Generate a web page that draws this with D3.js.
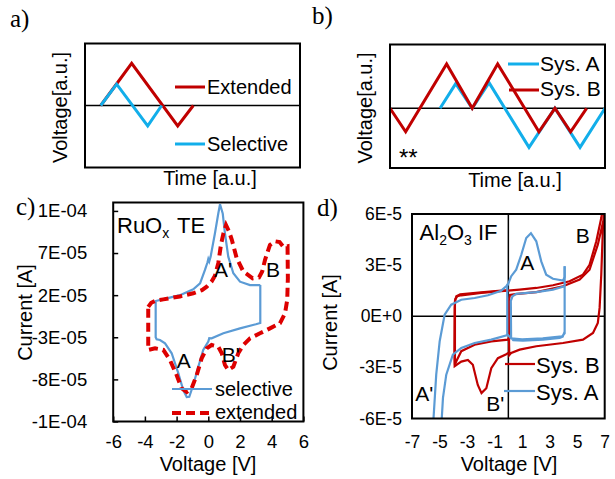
<!DOCTYPE html>
<html>
<head>
<meta charset="utf-8">
<script src="https://cdnjs.cloudflare.com/ajax/libs/d3/7.8.5/d3.min.js"></script>
<style>
  body { margin: 0; background: #fff; }
  svg text { fill: #000; }
</style>
</head>
<body>
<svg id="fig" width="615" height="479"></svg>
<script>
// ---- panel a: applied waveforms (time, voltage in a.u.) ----
const aSelT = [1.05, 2.11, 4.18, 5.11];
const aSelV = [0, 1.03, -0.99, 0];
const aExtT = [1.05, 3.11, 6.18, 7.22];
const aExtV = [0, 2.04, -0.99, 0];

// ---- panel b ----
const bSysAT = [3.13, 4.11, 5.14, 6.19, 8.69, 10.31, 11.88, 13.44];
const bSysAV = [0, 1.03, 0, 1.07, -1.63, 0, -1.63, 0];
const bSysBT = [0, 0.98, 3.54, 5.14, 6.73, 9.31, 10.31, 11.29, 12.29];
const bSysBV = [0, -0.98, 1.85, 0, 1.85, -0.98, 0, -0.98, 0];

// ---- panel c: RuOx TE, [voltage V, current 1e-5 A] ----
const cSelective = [
  [3.28, 3.2], [3.28, -1.3], [3.0, -1.45], [2.0, -1.94], [0.95, -2.53], [0.21, -3.12],
  [0.06, -3.1], [0.0, -3.5], [-0.32, -4.5], [-0.63, -6.5], [-0.95, -8.67], [-1.2, -10.06],
  [-1.36, -10.1], [-1.58, -9.26], [-1.89, -7.28], [-2.31, -4.9], [-2.73, -3.72],
  [-3.05, -3.33], [-3.26, -3.24], [-3.32, -3.0], [-3.32, 1.3], [-2.62, 1.62],
  [-1.79, 2.0], [-0.95, 2.7], [-0.52, 3.4], [-0.21, 5.0], [-0.05, 5.9], [0.0, 6.3],
  [0.06, 6.0], [0.15, 6.6], [0.42, 9.35], [0.63, 11.7], [0.74, 12.8], [0.91, 11.7],
  [1.05, 9.35], [1.26, 6.57], [1.58, 4.6], [2.0, 3.6], [2.63, 3.2], [3.28, 3.2]
];
const cExtended = [
  [-3.79, 0.6], [-3.6, 1.1], [-3.3, 1.35], [-2.84, 1.5], [-1.79, 1.85], [-0.95, 2.22],
  [-0.4, 2.6], [-0.1, 3.0], [0.2, 3.6], [0.42, 4.3], [0.63, 5.8], [0.8, 8.0], [0.95, 9.3],
  [1.12, 10.3], [1.3, 9.6], [1.48, 8.6], [1.79, 6.4], [2.21, 4.8], [2.8, 4.0], [3.2, 4.1],
  [3.4, 4.8], [3.58, 6.2], [3.89, 7.96], [4.2, 8.4], [4.5, 8.3], [4.75, 7.7], [5.0, 7.8],
  [5.02, 4.0], [4.98, 1.43], [4.84, -0.15], [4.52, -1.34], [3.89, -1.94], [3.26, -2.53],
  [2.63, -3.12], [2.21, -3.92], [1.89, -4.9], [1.58, -6.5], [1.26, -6.89], [1.05, -6.29],
  [0.85, -4.9], [0.63, -4.12], [0.21, -3.92], [-0.1, -4.31], [-0.42, -5.5], [-0.73, -7.48],
  [-1.05, -9.06], [-1.36, -9.5], [-1.68, -9.06], [-2.0, -7.48], [-2.42, -5.7],
  [-2.84, -4.5], [-3.36, -4.31], [-3.79, -4.5], [-3.79, 0.6]
];
const cXTicks = [-6, -4, -2, 0, 2, 4, 6];
const cYTicks = [-13, -8, -3, 2, 7, 12];

// ---- panel d: Al2O3 IF, [voltage V, current 1e-5 A] ----
const dSysAUpper = [
  [-5.46, -6.3], [-5.24, -3.43], [-4.99, -1.47], [-4.63, 0.09], [-4.15, 0.68], [-3.42, 0.97],
  [-2.45, 1.07], [-1.48, 1.23], [-0.52, 1.5], [-0.03, 1.85], [0.21, 2.35], [0.57, 2.73],
  [0.94, 3.61], [1.3, 4.59], [1.64, 4.87], [2.03, 4.4], [2.39, 3.22], [2.75, 2.44],
  [3.24, 2.2], [3.97, 2.09], [4.09, 2.3], [4.09, 2.93]
];
const dSysALoop = [
  [4.09, 2.93], [4.09, -0.9], [3.95, -1.2], [3.73, -1.27], [2.51, -1.37], [1.06, -1.43],
  [0.35, -1.4], [0.2, -1.25], [0.18, 0.9], [0.3, 1.17], [0.57, 1.31], [2.03, 1.42],
  [3.24, 1.56], [4.09, 1.76], [4.09, -1.0], [3.9, -1.18], [2.5, -1.3], [1.0, -1.36],
  [0.2, -1.3], [-0.03, -1.1], [-1.24, -1.37], [-2.45, -1.57], [-3.42, -1.86],
  [-4.03, -2.25], [-4.51, -3.43], [-4.75, -4.79], [-4.86, -6.3]
];
const dSysASwitch = [[-0.08, 1.9], [-0.08, -1.1]];
const dSysBFirst = [
  [0.0, -2.15], [-0.15, -2.23], [-0.76, -2.46], [-1.24, -3.05], [-1.6, -4.22], [-1.95, -4.51],
  [-2.22, -4.03], [-2.58, -2.85], [-2.94, -2.56], [-3.42, -2.66], [-3.9, -2.93],
  [-3.92, -2.0], [-3.9, 0.5], [-3.85, 1.0], [-3.7, 1.18], [-3.43, 1.23], [-1.97, 1.37],
  [-0.52, 1.47], [0.82, 1.56], [2.03, 1.66], [3.24, 1.82], [4.45, 2.05], [5.42, 2.44],
  [5.9, 3.02], [6.39, 4.4], [6.75, 5.76], [6.85, 6.3]
];
const dSysBSecond = [
  [6.95, 6.3], [6.87, 5.18], [6.75, 2.44], [6.63, 0.49], [6.5, -0.39], [6.15, -0.98],
  [5.42, -1.37], [3.97, -1.57], [2.03, -1.76], [0.82, -1.96], [0.21, -2.15], [0.07, -2.28],
  [0.05, -1.5], [0.05, 1.0], [0.12, 1.25], [0.5, 1.3], [2.03, 1.42], [3.97, 1.76],
  [5.18, 2.15], [5.9, 2.73], [6.5, 4.2], [7.0, 5.96], [7.05, 6.3]
];
const dSysBThird = [
  [0.05, -1.25], [-0.03, -1.37], [-1.24, -1.47], [-2.45, -1.67], [-3.42, -2.05],
  [-3.78, -2.64], [-3.88, -2.84], [-3.88, 0.9], [-3.78, 1.17], [-3.5, 1.28], [-1.97, 1.4],
  [-0.52, 1.5], [0.0, 1.52]
];
const dXTicks = [-7, -5, -3, -1, 1, 3, 5, 7];
const dYTicks = [-6, -3, 0, 3, 6];

const FONT = '"Liberation Sans", Arial, Helvetica, sans-serif';
const SERIF = '"Liberation Serif", "Times New Roman", serif';
const CYAN = '#12aeea';
const DARKRED = '#c00000';
const STEEL = '#5b9bd5';
const RED = '#dd0000';

const svg = d3.select('#fig');

// Excel-like "0E+00" format
const sci = (v, pad) => {
  if (v === 0) return '0E+' + '0'.repeat(pad);
  let e = Math.floor(Math.log10(Math.abs(v)));
  let m = Math.round(v / Math.pow(10, e));
  if (Math.abs(m) === 10) { m /= 10; e += 1; }
  return m + 'E' + (e < 0 ? '-' : '+') + String(Math.abs(e)).padStart(pad, '0');
};

const text = (g, x, y, s, size, anchor) => g.append('text')
  .attr('x', x).attr('y', y)
  .attr('font-family', FONT)
  .attr('font-size', size)
  .attr('text-anchor', anchor || 'start')
  .text(s);

const vText = (g, x, y, s, size) => g.append('text')
  .attr('transform', `translate(${x},${y}) rotate(-90)`)
  .attr('font-family', FONT)
  .attr('font-size', size)
  .attr('text-anchor', 'middle')
  .text(s);

const frame = (x, y, x1, y1) => svg.append('rect')
  .attr('x', x).attr('y', y)
  .attr('width', x1 - x).attr('height', y1 - y)
  .attr('fill', 'none').attr('stroke', '#000').attr('stroke-width', 2);

const clip = (id, x, y, x1, y1) => svg.append('clipPath').attr('id', id)
  .append('rect').attr('x', x).attr('y', y).attr('width', x1 - x).attr('height', y1 - y);

// panel letters
[['a)', 10, 27], ['b)', 312, 24], ['c)', 16, 215], ['d)', 317, 216]].forEach(([s, x, y]) => {
  svg.append('text').attr('x', x).attr('y', y)
    .attr('font-family', SERIF).attr('font-size', 25).text(s);
});

// ================= panel a =================
{
  const x = d3.scaleLinear().domain([0, 14.33]).range([85, 300]);
  const y = d3.scaleLinear().domain([-3, 3]).range([167.5, 43.5]);
  const line = d3.line().x(d => x(d[0])).y(d => y(d[1]));
  svg.append('line').attr('x1', x(0)).attr('x2', x(14.33)).attr('y1', y(0)).attr('y2', y(0))
    .attr('stroke', '#000').attr('stroke-width', 1.5);
  svg.append('path').datum(d3.zip(aExtT, aExtV)).attr('d', line)
    .attr('fill', 'none').attr('stroke', DARKRED).attr('stroke-width', 3);
  svg.append('path').datum(d3.zip(aSelT, aSelV)).attr('d', line)
    .attr('fill', 'none').attr('stroke', CYAN).attr('stroke-width', 3);
  frame(85, 43.5, 300, 167.5);

  // legend
  svg.append('line').attr('x1', 175).attr('x2', 205).attr('y1', 87).attr('y2', 87)
    .attr('stroke', DARKRED).attr('stroke-width', 3);
  text(svg, 207, 94, 'Extended', 20);
  svg.append('line').attr('x1', 175).attr('x2', 205).attr('y1', 144).attr('y2', 144)
    .attr('stroke', CYAN).attr('stroke-width', 3);
  text(svg, 207, 151, 'Selective', 20);

  text(svg, 210, 185, 'Time [a.u.]', 20, 'middle');
  vText(svg, 67, 107.5, 'Voltage[a.u.]', 20);
}

// ================= panel b =================
{
  const x = d3.scaleLinear().domain([0, 13.44]).range([390, 605]);
  const y = d3.scaleLinear().domain([-2.49, 2.66]).range([168, 44.5]);
  const line = d3.line().x(d => x(d[0])).y(d => y(d[1]));
  svg.append('line').attr('x1', x(0)).attr('x2', x(13.44)).attr('y1', y(0)).attr('y2', y(0))
    .attr('stroke', '#000').attr('stroke-width', 1.5);
  svg.append('path').datum(d3.zip(bSysAT, bSysAV)).attr('d', line)
    .attr('fill', 'none').attr('stroke', CYAN).attr('stroke-width', 3);
  svg.append('path').datum(d3.zip(bSysBT, bSysBV)).attr('d', line)
    .attr('fill', 'none').attr('stroke', DARKRED).attr('stroke-width', 3);
  frame(390, 44.5, 605, 168);

  svg.append('line').attr('x1', 508).attr('x2', 539).attr('y1', 64).attr('y2', 64)
    .attr('stroke', CYAN).attr('stroke-width', 3);
  text(svg, 540, 71, 'Sys. A', 21);
  svg.append('line').attr('x1', 509).attr('x2', 539).attr('y1', 90).attr('y2', 90)
    .attr('stroke', DARKRED).attr('stroke-width', 3);
  text(svg, 540, 96, 'Sys. B', 21);

  text(svg, 399, 166, '**', 24);
  text(svg, 515, 187, 'Time [a.u.]', 20, 'middle');
  vText(svg, 372, 108, 'Voltage[a.u.]', 20);
}

// ================= panel c =================
{
  const X0 = 113.2, X1 = 303.4, Y0 = 202.5, Y1 = 421.5;
  const x = d3.scaleLinear().domain([-6, 6]).range([X0, X1]);
  const y = d3.scaleLinear().domain([-13, 13]).range([Y1, Y0]);
  const line = d3.line().x(d => x(d[0])).y(d => y(d[1]));
  clip('clipC', X0, Y0, X1, Y1);

  const plot = svg.append('g').attr('clip-path', 'url(#clipC)');
  plot.append('path').datum(cSelective).attr('d', line)
    .attr('fill', 'none').attr('stroke', STEEL).attr('stroke-width', 2.2);
  plot.append('path').datum(cExtended).attr('d', line)
    .attr('fill', 'none').attr('stroke', RED).attr('stroke-width', 4)
    .attr('stroke-dasharray', '9,5');

  const xAxis = svg.append('g').attr('transform', `translate(0,${Y1})`)
    .call(d3.axisBottom(x).tickValues(cXTicks).tickSize(-5).tickPadding(13.5).tickFormat(d3.format('d')));
  const yAxis = svg.append('g').attr('transform', `translate(${X0},0)`)
    .call(d3.axisLeft(y).tickValues(cYTicks).tickSize(-5).tickPadding(26).tickFormat(v => sci(v * 1e-5, 2)));
  [xAxis, yAxis].forEach(a => {
    a.select('.domain').remove();
    a.attr('font-family', FONT).attr('font-size', 18.5);
    a.selectAll('line').attr('stroke-width', 1.5);
  });
  xAxis.selectAll('text').text(d => d3.format('d')(d).replace('−', '-'));
  frame(X0, Y0, X1, Y1);

  // labels inside the plot, positioned in data units
  const t = svg.append('text').attr('x', x(-5.76)).attr('y', y(9.35))
    .attr('font-family', FONT).attr('font-size', 22);
  t.append('tspan').text('RuO');
  t.append('tspan').attr('font-size', 14).attr('dy', 5).text('x');
  t.append('tspan').attr('dy', -5).attr('dx', 2).text(' TE');
  [["A'", 0.36, 4.12], ['B', 3.64, 4.16], ["B'", 0.85, -5.9], ['A', -1.99, -6.69]]
    .forEach(([s, v, i]) => text(svg, x(v), y(i), s, 21));

  // legend
  svg.append('line').attr('x1', 172).attr('x2', 212).attr('y1', 389).attr('y2', 389)
    .attr('stroke', STEEL).attr('stroke-width', 2.2);
  text(svg, 215, 395.5, 'selective', 20);
  svg.append('line').attr('x1', 172).attr('x2', 212).attr('y1', 413).attr('y2', 413)
    .attr('stroke', RED).attr('stroke-width', 4).attr('stroke-dasharray', '9,5');
  text(svg, 215, 418.5, 'extended', 20);

  text(svg, 208, 471, 'Voltage [V]', 20, 'middle');
  vText(svg, 32, 312.5, 'Current [A]', 20);
}

// ================= panel d =================
{
  const X0 = 412, X1 = 604.7, Y0 = 214, Y1 = 418.5;
  const x = d3.scaleLinear().domain([-7, 7]).range([X0, X1]);
  const y = d3.scaleLinear().domain([-6, 6]).range([Y1, Y0]);
  const line = d3.line().x(d => x(d[0])).y(d => y(d[1]));
  clip('clipD', X0, Y0, X1, Y1);

  svg.append('line').attr('x1', x(0)).attr('x2', x(0)).attr('y1', Y0).attr('y2', Y1)
    .attr('stroke', '#000').attr('stroke-width', 1.5);
  svg.append('line').attr('x1', X0).attr('x2', X1).attr('y1', y(0)).attr('y2', y(0))
    .attr('stroke', '#000').attr('stroke-width', 1.5);

  const plot = svg.append('g').attr('clip-path', 'url(#clipD)');
  [dSysBFirst, dSysBSecond, dSysBThird].forEach(c => plot.append('path').datum(c).attr('d', line)
    .attr('fill', 'none').attr('stroke', DARKRED).attr('stroke-width', 2.2));
  [dSysAUpper, dSysALoop, dSysASwitch].forEach(c => plot.append('path').datum(c).attr('d', line)
    .attr('fill', 'none').attr('stroke', STEEL).attr('stroke-width', 2.2));

  const xAxis = svg.append('g').attr('transform', `translate(0,${Y1})`)
    .call(d3.axisBottom(x).tickValues(dXTicks).tickSize(0).tickPadding(17));
  const yAxis = svg.append('g').attr('transform', `translate(${X0},0)`)
    .call(d3.axisLeft(y).tickValues(dYTicks).tickSize(0).tickPadding(10).tickFormat(v => sci(v * 1e-5, 1)));
  [xAxis, yAxis].forEach(a => {
    a.select('.domain').remove();
    a.attr('font-family', FONT).attr('font-size', 17.5);
  });
  xAxis.selectAll('text').text(d => String(d));
  frame(X0, Y0, X1, Y1);

  const t = svg.append('text').attr('x', x(-6.45)).attr('y', y(4.5))
    .attr('font-family', FONT).attr('font-size', 22);
  t.append('tspan').text('Al');
  t.append('tspan').attr('font-size', 14).attr('dy', 5).text('2');
  t.append('tspan').attr('dy', -5).text('O');
  t.append('tspan').attr('font-size', 14).attr('dy', 5).text('3');
  t.append('tspan').attr('dy', -5).text(' IF');
  [['B', 4.89, 4.3], ['A', 0.86, 2.73], ["A'", -6.77, -4.99], ["B'", -1.61, -5.58]]
    .forEach(([s, v, i]) => text(svg, x(v), y(i), s, 21));

  svg.append('line').attr('x1', 505).attr('x2', 535).attr('y1', 364).attr('y2', 364)
    .attr('stroke', DARKRED).attr('stroke-width', 2.2);
  text(svg, 536, 373, 'Sys. B', 22);
  svg.append('line').attr('x1', 504).attr('x2', 535).attr('y1', 391).attr('y2', 391)
    .attr('stroke', STEEL).attr('stroke-width', 2.2);
  text(svg, 536, 399.5, 'Sys. A', 22);

  text(svg, 509, 471, 'Voltage [V]', 20, 'middle');
  vText(svg, 337, 322.5, 'Current [A]', 20);
}
</script>
</body>
</html>
